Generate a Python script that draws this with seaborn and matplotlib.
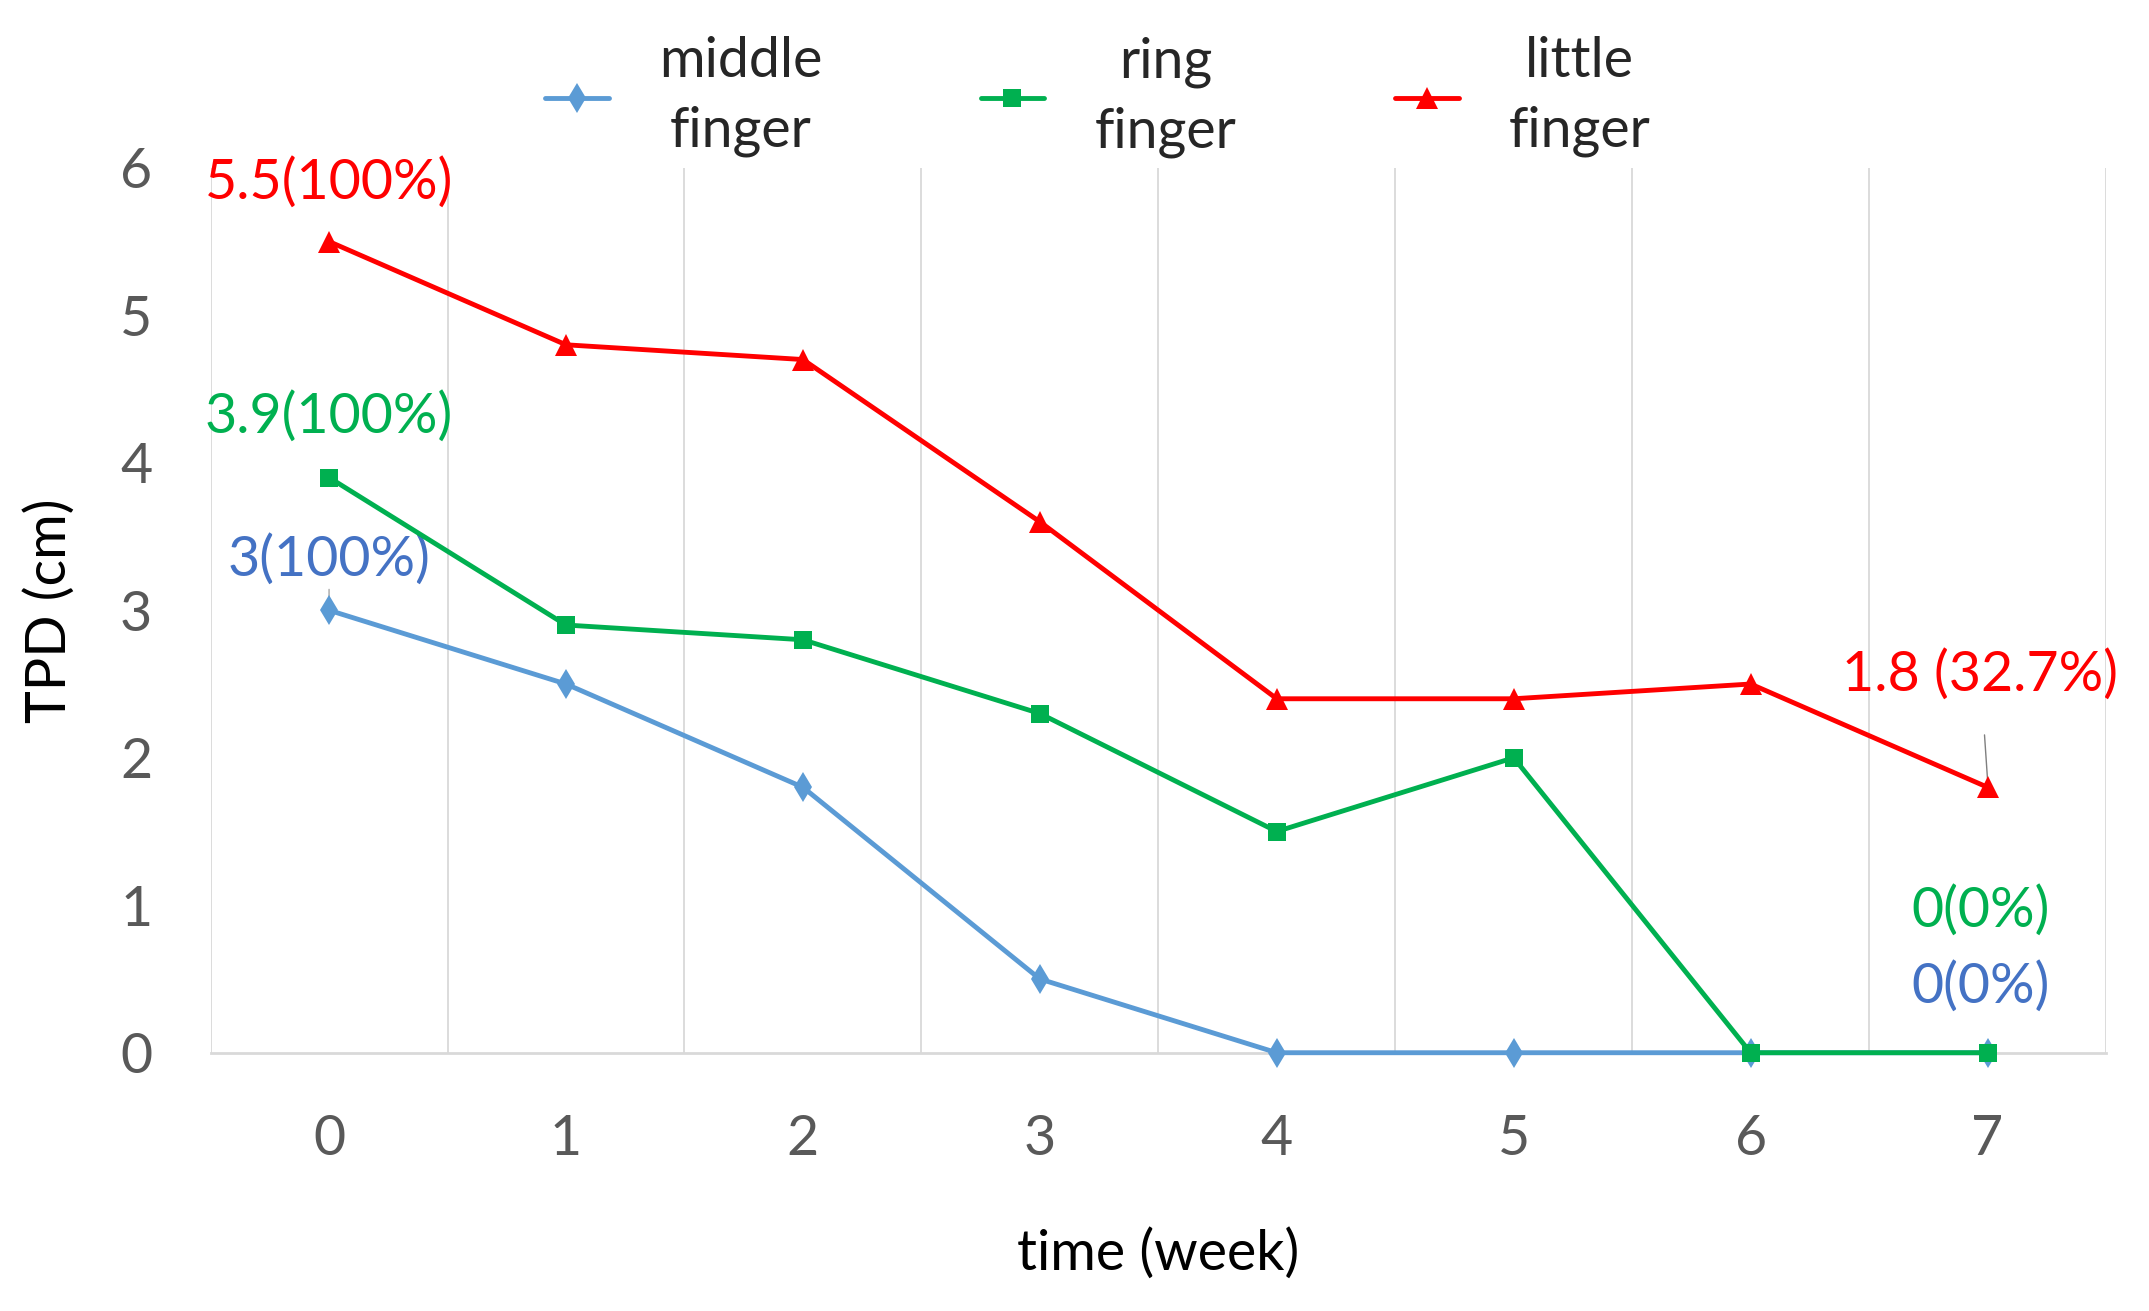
import numpy as np
import pandas as pd
import matplotlib
matplotlib.use("Agg")
import matplotlib.pyplot as plt
import seaborn as sns

# data
weeks = [0, 1, 2, 3, 4, 5, 6, 7]
middle = [3.0, 2.5, 1.8, 0.5, 0.0, 0.0, 0.0, 0.0]
ring = [3.9, 2.9, 2.8, 2.3, 1.5, 2.0, 0.0, 0.0]
little = [5.5, 4.8, 4.7, 3.6, 2.4, 2.4, 2.5, 1.8]
names = ['middle finger', 'ring finger', 'little finger']
legend_labels = ['middle\nfinger', 'ring\nfinger', 'little\nfinger']

df = pd.DataFrame({
    'week': weeks * 3,
    'tpd': middle + ring + little,
    'finger': [n for n in names for _ in weeks],
})

sns.set_style('white')
plt.rcParams['font.family'] = ['Lato', 'DejaVu Sans']

line_colors = {'middle finger': '#5B9BD5', 'ring finger': '#00B050', 'little finger': '#FF0000'}
markers = {'middle finger': 'd', 'ring finger': 's', 'little finger': '^'}
msize = {'middle finger': 15, 'ring finger': 13, 'little finger': 16}

fig = plt.figure(figsize=(21.49, 13.11), dpi=100)
ax = fig.add_axes([0.098, 0.197, 0.882, 0.675])

for n in names:
    sub = df[df['finger'] == n]
    sns.lineplot(data=sub, x='week', y='tpd', color=line_colors[n], marker=markers[n],
                 markersize=msize[n], markeredgewidth=0, linewidth=3.5, ax=ax, label=n,
                 clip_on=False, zorder=5)

ax.set_xlim(-0.5, 7.5)
ax.set_ylim(0, 6)
ax.set_xticks(weeks)
ax.set_yticks(range(0, 7))
ax.tick_params(axis='both', labelsize=40, labelcolor='#595959', length=0)
ax.tick_params(axis='x', pad=44)
ax.tick_params(axis='y', pad=42)

# vertical gridlines at category boundaries (excel style)
for b in np.arange(-0.5, 8.0, 1.0):
    ax.axvline(b, color='#D9D9D9', linewidth=1.3, zorder=0)

for s in ['top', 'right', 'left']:
    ax.spines[s].set_visible(False)
ax.spines['bottom'].set_color('#D9D9D9')
ax.spines['bottom'].set_linewidth(2)
ax.spines['bottom'].set_zorder(1)

ax.set_xlabel('time (week)', fontsize=40, color='black', labelpad=45)
ax.set_ylabel('TPD (cm)', fontsize=40, color='black', labelpad=32)

# value labels
lab_fs = 40
ax.text(0, 5.9, '5.5(100%)', color='#FF0000', fontsize=lab_fs, ha='center', va='center')
ax.text(0, 4.31, '3.9(100%)', color='#00B050', fontsize=lab_fs, ha='center', va='center')
ax.annotate('3(100%)', xy=(0, 3.05), xytext=(0, 3.34), color='#4472C4', fontsize=lab_fs,
            ha='center', va='center',
            arrowprops=dict(arrowstyle='-', color='#A6A6A6', lw=1, shrinkA=18, shrinkB=0))
ax.annotate('1.8 (32.7%)', xy=(7.0, 1.85), xytext=(6.97, 2.56), color='#FF0000', fontsize=lab_fs,
            ha='center', va='center',
            arrowprops=dict(arrowstyle='-', color='#7F7F7F', lw=1, shrinkA=22, shrinkB=0))
ax.text(6.97, 0.96, '0(0%)', color='#00B050', fontsize=lab_fs, ha='center', va='center')
ax.text(6.97, 0.45, '0(0%)', color='#4472C4', fontsize=lab_fs, ha='center', va='center')

handles, _ = ax.get_legend_handles_labels()
leg = ax.legend(handles, legend_labels, ncol=3, loc='lower center', bbox_to_anchor=(0.468, 0.955),
                frameon=False, fontsize=40, handlelength=1.15, handletextpad=0.9,
                columnspacing=2.85, labelspacing=0.2)
for t in leg.get_texts():
    t.set_multialignment('center')
    t.set_linespacing(1.45)

fig.savefig('out.png', dpi=100)
